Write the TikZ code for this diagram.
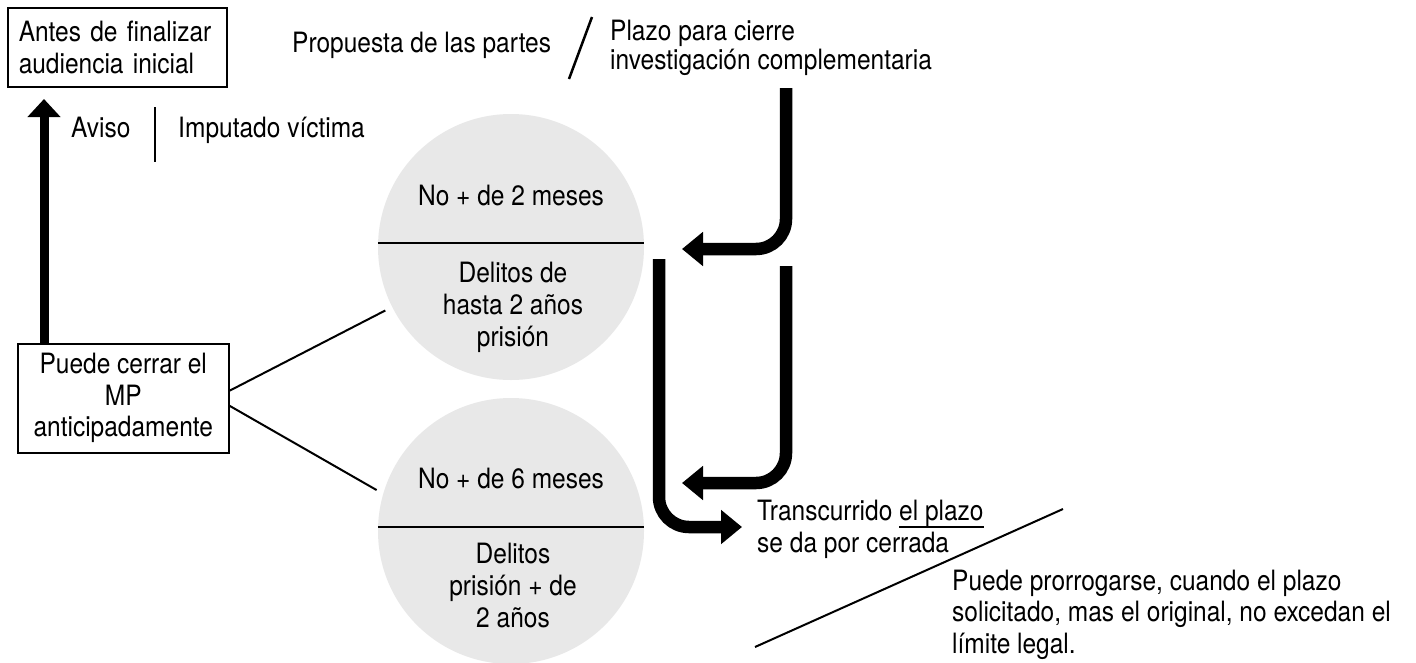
\documentclass[tikz,border=0pt]{standalone}
\usepackage{fontspec}
\setmainfont{TeX Gyre Heros}[FakeStretch=0.875]
\usetikzlibrary{arrows.meta,calc}
\definecolor{circgray}{HTML}{E8E8E8}
\newcommand\ulx[1]{\setbox0\hbox{#1}\rlap{\rule[-7.5pt]{\wd0}{1.4pt}}\box0}
\begin{document}
\begin{tikzpicture}[x=1pt,y=-1pt,
  txt/.style={inner sep=0pt, font=\fontsize{28}{32}\selectfont},
  boxnode/.style={draw, line width=1.5pt, inner sep=0pt, font=\fontsize{28}{31.5}\selectfont},
  circ/.style={circle, fill=circgray, draw=none, minimum size=266pt, inner sep=0pt},
  divider/.style={line width=1.6pt},
  thinline/.style={line width=2pt},
  bigarrow/.style={line width=12.5pt, rounded corners=30pt, -{Triangle[length=21pt,width=33pt]}},
  uparrow/.style={line width=9pt, -{Triangle[length=18pt,width=32pt]}}
]
\useasboundingbox[fill=white] (0,0) rectangle (1416,662);

% circles
\node[circ] (c1) at (511,247) {};
\node[circ] (c2) at (511,531) {};
\draw[divider] ([yshift=4pt]c1.west) -- ([yshift=4pt]c1.east);
\draw[divider] ([yshift=4pt]c2.west) -- ([yshift=4pt]c2.east);

% multi-line nodes: base anchor = baseline of last line
\node[txt, anchor=base] (t1a) at (511,205) {No + de 2 meses};
\node[txt, align=center, anchor=base] (t1b) at (513,346) {Delitos de\\hasta 2 años\\prisión};
\node[txt, anchor=base] (t2a) at (511,488) {No + de 6 meses};
\node[txt, align=center, anchor=base] (t2b) at (513,627) {Delitos\\prisión + de\\2 años};

% boxes
\node[boxnode, anchor=north west, minimum width=219pt, minimum height=79pt,
      text width=197pt, align=left] (b1) at (7,7) {Antes de finalizar\\audiencia inicial};
\node[boxnode, anchor=north west, minimum width=211pt, minimum height=109pt,
      align=center] (b2) at (17,343) {Puede cerrar el\\MP\\anticipadamente};

% up arrow
\coordinate (avtip) at (44,99);
\draw[uparrow] ([xshift=27pt]b2.north west) -- (avtip);

% lines from box to circles
\draw[thinline] ([yshift=7.5pt]b2.east) -- ([shift={(-7,3)}]c1.207);
\draw[thinline] ([yshift=-7.5pt]b2.east) -- ([shift={(-7,-2)}]c2.163);

% texts
\node[txt, anchor=base west] (aviso) at (71,137) {Aviso};
\node[txt, anchor=base west] (imp) at (178,137) {Imputado víctima};
\coordinate (s1) at (155,107);
\coordinate (s2) at (155,162);
\draw[thinline] (s1) -- (s2);

\node[txt, anchor=base west] (prop) at (292,52) {Propuesta de las partes};
\coordinate (sl1) at (592,17);
\coordinate (sl2) at (569,79);
\draw[thinline, line width=2.5pt] (sl1) -- (sl2);
\node[txt, anchor=base west, align=left, font=\fontsize{28}{29}\selectfont] (plazo) at (610,69)
  {Plazo para cierre\\investigación complementaria};

\node[txt, anchor=base west, align=left] (trans) at (757,552) {Transcurrido \ulx{el plazo}\\se da por cerrada};
\coordinate (d1) at (755,647);
\coordinate (d2) at (1063,509);
\draw[thinline] (d1) -- (d2);
\node[txt, anchor=base west, align=left, font=\fontsize{28}{31.5}\selectfont] (prorr) at (952,653)
  {Puede prorrogarse, cuando el plazo\\solicitado, mas el original, no excedan el\\límite legal.};

% thick arrows
\coordinate (aAs) at (786,88);
\coordinate (aAe) at (682,249);
\draw[bigarrow] (aAs) |- (aAe);
\coordinate (aBs) at (786,266);
\coordinate (aBe) at (682,483);
\draw[bigarrow] (aBs) |- (aBe);
\coordinate (aCs) at (659,259);
\coordinate (aCe) at (742,527);
\draw[bigarrow] (aCs) |- (aCe);
\end{tikzpicture}
\end{document}
